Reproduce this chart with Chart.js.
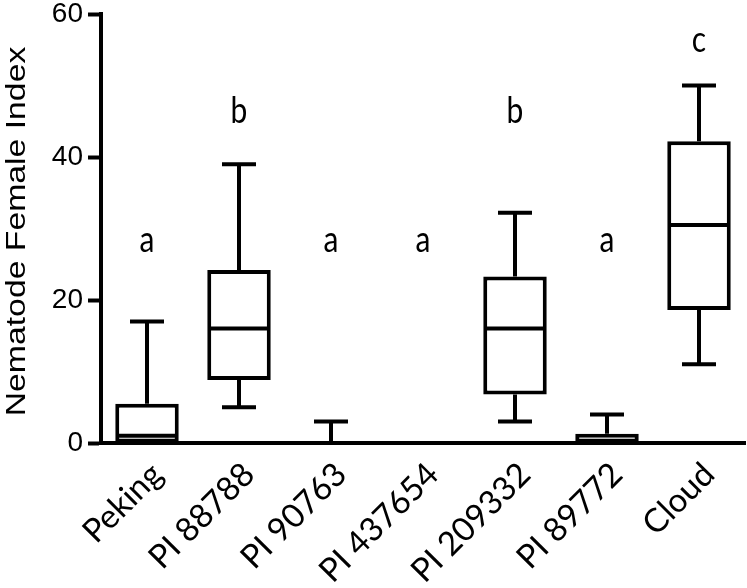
<!DOCTYPE html>
<html>
<head>
<meta charset="utf-8">
<script src="https://cdn.jsdelivr.net/npm/chart.js@4"></script>
<style>
  html, body { margin: 0; padding: 0; background: #fff; }
  canvas { display: block; }
</style>
</head>
<body>
<canvas id="c" width="747" height="588"></canvas>
<script>
// ---- data ----
const categories = ['Peking', 'PI 88788', 'PI 90763', 'PI 437654', 'PI 209332', 'PI 89772', 'Cloud'];
const whiskerMin = [0, 5, 0, 0, 3, 0, 11];
const q1Values   = [0, 8.8, 0, 0, 6.8, 0, 18.6];
const medians    = [1, 16, 0, 0, 16, 0, 30.5];
const q3Values   = [5.5, 24.2, 0, 0, 23.3, 1.3, 42.2];
const whiskerMax = [17, 39, 3, 0, 32.2, 4, 50];
const groupLetters = ['a', 'b', 'a', 'a', 'b', 'a', 'c'];
const letterValues = [26.7, 44.8, 26.7, 26.7, 44.8, 26.7, 54.7];
const yTicks = [0, 20, 40, 60];
const yTitle = 'Nematode Female Index';

const boxPlotPlugin = {
  id: 'boxPlotExtras',
  afterDatasetsDraw(chart) {
    const ctx = chart.ctx;
    const xs = chart.scales.x, ys = chart.scales.y;
    const meta = chart.getDatasetMeta(0);
    ctx.save();
    ctx.strokeStyle = '#000';
    ctx.lineWidth = 4;
    ctx.lineCap = 'butt';
    const capHalf = 17;
    categories.forEach((c, i) => {
      const cx = xs.getPixelForValue(i);
      const bar = meta.data[i];
      const halfW = bar.width / 2;
      const yMax = ys.getPixelForValue(whiskerMax[i]);
      const yQ3 = ys.getPixelForValue(q3Values[i]);
      const yQ1 = ys.getPixelForValue(q1Values[i]);
      const yMin = ys.getPixelForValue(whiskerMin[i]);
      const yMed = ys.getPixelForValue(medians[i]);
      if (whiskerMax[i] > q3Values[i]) {
        ctx.beginPath();
        ctx.moveTo(cx, yQ3); ctx.lineTo(cx, yMax);
        ctx.moveTo(cx - capHalf, yMax); ctx.lineTo(cx + capHalf, yMax);
        ctx.stroke();
      }
      if (whiskerMin[i] < q1Values[i]) {
        ctx.beginPath();
        ctx.moveTo(cx, yQ1); ctx.lineTo(cx, yMin);
        ctx.moveTo(cx - capHalf, yMin); ctx.lineTo(cx + capHalf, yMin);
        ctx.stroke();
      }
      if (q3Values[i] > q1Values[i]) {
        ctx.beginPath();
        ctx.moveTo(cx - halfW + 2, yMed); ctx.lineTo(cx + halfW - 2, yMed);
        ctx.stroke();
      }
      // group letters (glyphs are tall in the reference)
      ctx.save();
      ctx.translate(cx, ys.getPixelForValue(letterValues[i]));
      ctx.scale(1, 1.25);
      ctx.fillStyle = '#000';
      ctx.font = '30px Lato';
      ctx.textAlign = 'center';
      ctx.textBaseline = 'alphabetic';
      ctx.fillText(groupLetters[i], 0, 0);
      ctx.restore();
    });
    ctx.restore();
  },
  afterDraw(chart) {
    const ctx = chart.ctx;
    const ys = chart.scales.y;
    const cy = (ys.top + ys.bottom) / 2 + 3;
    ctx.save();
    ctx.translate(25, cy);
    ctx.rotate(-Math.PI / 2);
    ctx.scale(1.25, 1);
    ctx.fillStyle = '#000';
    ctx.font = '27px "Liberation Sans"';
    ctx.textAlign = 'center';
    ctx.textBaseline = 'alphabetic';
    ctx.fillText(yTitle, 0, 0);
    ctx.restore();
  }
};

new Chart(document.getElementById('c'), {
  type: 'bar',
  data: {
    labels: categories,
    datasets: [{
      data: categories.map((c, i) => [q1Values[i], q3Values[i]]),
      backgroundColor: '#ffffff',
      borderColor: '#000000',
      borderWidth: 4,
      borderSkipped: false,
      barPercentage: 0.69,
      categoryPercentage: 1.0
    }]
  },
  options: {
    responsive: false,
    animation: false,
    layout: { padding: { top: 14, right: 2, left: 0, bottom: 0 } },
    plugins: { legend: { display: false }, tooltip: { enabled: false } },
    scales: {
      x: {
        grid: { display: false },
        border: { display: true, width: 4, color: '#000' },
        ticks: {
          color: '#000',
          font: { family: 'Lato', size: 33 },
          minRotation: 45,
          maxRotation: 45,
          padding: 4,
          labelOffset: 10,
          autoSkip: false
        },
        afterFit(scale) { scale.height = 145; scale.paddingLeft = 0; scale.paddingRight = 0; }
      },
      y: {
        min: 0,
        max: 60,
        afterBuildTicks(scale) { scale.ticks = yTicks.map(v => ({ value: v })); },
        grid: {
          display: true,
          drawOnChartArea: false,
          drawTicks: true,
          tickLength: 13,
          tickWidth: 4,
          tickColor: '#000',
          color: '#000'
        },
        border: { display: true, width: 4, color: '#000' },
        ticks: {
          color: '#000',
          font: { family: 'Liberation Sans', size: 28 },
          padding: 5
        },
        afterFit(scale) { scale.width = 101; scale.paddingTop = 0; scale.paddingBottom = 0; }
      }
    }
  },
  plugins: [boxPlotPlugin]
});
</script>
</body>
</html>
